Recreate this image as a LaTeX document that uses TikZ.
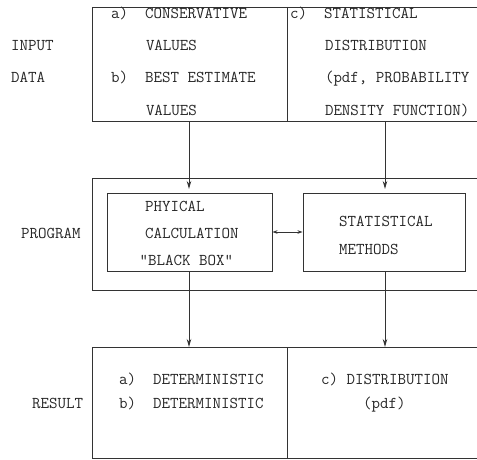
\documentclass[tikz,border=0pt]{standalone}
\usetikzlibrary{arrows.meta}
\begin{document}
\begin{tikzpicture}[x=1pt,y=-1pt,
  line/.style={draw=black!80, line width=0.9pt},
  arr/.style={line, -{Stealth[length=8pt,width=4.5pt]}},
  darr/.style={line, {Stealth[length=5pt,width=3.5pt]}-{Stealth[length=5pt,width=3.5pt]}},
  txt/.style={anchor=base west, inner sep=0pt, text=black!85, font=\fontsize{16.5}{19}\ttfamily},
  inbox/.style={line, fill=none, inner sep=0pt, minimum width=165pt, minimum height=78pt},
]
\useasboundingbox (0,0) rectangle (477,460);
% top (input) box, open on the right
\draw[line] (477,7) -- (92,7) -- (92,121) -- (477,121);
\draw[line] (287,7) -- (287,121);
\coordinate (inA) at (189,121);
\coordinate (inC) at (385,121);
% program box
\draw[line] (477,178) -- (92,178) -- (92,290) -- (477,290);
\node[inbox, minimum width=165pt] (phys) at (189.5,232) {};
\node[inbox, minimum width=162pt] (stat) at (384,232) {};
% result box
\draw[line] (477,347) -- (92,347) -- (92,458) -- (477,458);
\draw[line] (287,347) -- (287,458);
\coordinate (resA) at (189,347);
\coordinate (resC) at (385,347);
% connectors
\draw[arr] (inA) -- (189,189) coordinate (tipA);
\draw[arr] (inC) -- (385,189) coordinate (tipC);
\draw[arr] (phys.south -| resA) -- (resA);
\draw[arr] (stat.south -| resC) -- (resC);
\draw[darr] (phys.east) -- (stat.west);
% left labels
\node[txt] (l1) at (11,51) {INPUT};
\node[txt] (l2) at (11,83) {DATA};
\node[txt] (l3) at (21,238) {PROGRAM};
\node[txt] (l4) at (32,408) {RESULT};
% input texts
\node[txt] (t1) at (111,19) {a)~~CONSERVATIVE};
\node[txt] (t2) at (145.8,51) {VALUES};
\node[txt] (t3) at (111,83) {b)~~BEST ESTIMATE};
\node[txt] (t4) at (145.8,115) {VALUES};
\node[txt] (t5) at (290,19) {c)~~STATISTICAL};
\node[txt] (t6) at (324.8,51) {DISTRIBUTION};
\node[txt] (t7) at (324.8,83) {(pdf, PROBABILITY};
\node[txt] (t8) at (324.8,115) {DENSITY FUNCTION)};
% program texts
\node[txt] (p1) at (145,211) {PHYICAL};
\node[txt] (p2) at (145,238) {CALCULATION};
\node[txt] (p3) at (139.5,265) {"BLACK BOX"};
\node[txt] (p4) at (339,226) {STATISTICAL};
\node[txt] (p5) at (339,254) {METHODS};
% result texts
\node[txt] (r1) at (119,384) {a)~~DETERMINISTIC};
\node[txt] (r2) at (119,408) {b)~~DETERMINISTIC};
\node[txt] (r3) at (321,384) {c)~DISTRIBUTION};
\node[txt] (r4) at (363,408) {(pdf)};
\end{tikzpicture}
\end{document}
